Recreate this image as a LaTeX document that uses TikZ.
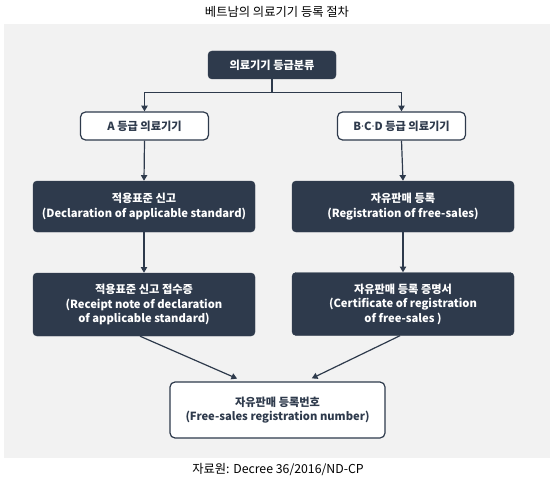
\documentclass[tikz,border=0pt]{standalone}
\usepackage{fontspec}
\setmainfont{Noto Sans CJK KR}
\newfontfamily\dotfont{Noto Sans}
\usepackage{xcolor}
\definecolor{vnnavy}{HTML}{2E3A4C}
\definecolor{vnband}{HTML}{F2F2F2}
\usetikzlibrary{arrows.meta,positioning}
\newcommand{\mdot}{{\dotfont\bfseries ·}}

\begin{document}
\begin{tikzpicture}[x=1pt,y=-1pt,
  dk/.style={fill=vnnavy,draw=vnnavy,rounded corners=4pt,text=white,font=\bfseries\fontsize{11.2}{14.5}\selectfont,
    align=center,inner sep=0pt},
  lt/.style={fill=white,draw=vnnavy,line width=1.2pt,rounded corners=5pt,text=vnnavy,
    font=\bfseries\fontsize{11.2}{14.5}\selectfont,align=center,inner sep=0pt},
  arr/.style={-{Triangle[length=2mm,width=2.2mm]},line width=1.2pt,vnnavy}]
  \useasboundingbox (0,0) rectangle (554,484);
  \fill[vnband] (4,24) rectangle (550,458);
  \node[font=\fontsize{12.3}{14}\selectfont] (ttl) at (277,12) {베트남의 의료기기 등록 절차};
  \node[font=\fontsize{12.3}{14}\selectfont] (src) at (278,470) {자료원: Decree 36/2016/ND-CP};
  % classification
  \node[dk,minimum width=128,minimum height=28] (cls) at (272,65) {의료기기 등급분류};
  \node[lt,minimum width=128,minimum height=28] (gA) at (144.5,126) {A 등급 의료기기};
  \node[lt,minimum width=128,minimum height=28] (gB) at (401.5,126) {B\mdot C\mdot D 등급 의료기기};
  % left column
  \node[dk,minimum width=222,minimum height=51] (decl) at (144,206.5)
    {적용표준 신고\\(Declaration of applicable standard)};
  \node[dk,minimum width=222,minimum height=63] (rcpt) at (144,304.5)
    {적용표준 신고 접수증\\(Receipt note of declaration\\of applicable standard)};
  % right column
  \node[dk,minimum width=222,minimum height=51] (reg) at (403,206.5)
    {자유판매 등록\\(Registration of free-sales)};
  \node[dk,minimum width=222,minimum height=63] (cert) at (403,304) 
    {자유판매 등록 증명서\\(Certificate of registration\\of free-sales )};
  % result
  \node[lt,minimum width=215,minimum height=56] (fin) at (277.5,410)
    {자유판매 등록번호\\(Free-sales registration number)};
  \draw[arr] (cls.south) -- ++(0,13) -| (gA.north);
  \draw[arr] (cls.south) -- ++(0,13) -| (gB.north);
  \draw[arr] (gA.south) -- (decl.north);
  \draw[arr] (gB.south) -- (reg.north);
  \draw[arr] (decl.south) -- (rcpt.north);
  \draw[arr] (reg.south) -- (cert.north);
  \draw[arr,shorten >=7pt] ([xshift=-4pt]rcpt.south) -- ([xshift=-34pt]fin.north);
  \draw[arr,shorten >=7pt] ([xshift=-3pt]cert.south) -- ([xshift=28pt]fin.north);
\end{tikzpicture}
\end{document}
